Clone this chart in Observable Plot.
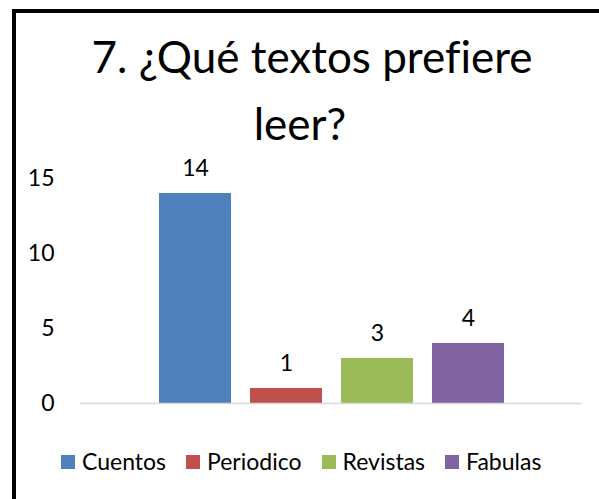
<!DOCTYPE html>
<html><head><meta charset="utf-8">
<script src="https://cdn.jsdelivr.net/npm/d3@7"></script>
<script src="https://cdn.jsdelivr.net/npm/@observablehq/plot@0.6"></script>
<style>
html,body{margin:0;padding:0;background:#fff;overflow:hidden;}
#wrap{position:relative;width:599px;height:499px;overflow:hidden;background:#fff;font-family:Lato,"Open Sans",sans-serif;color:#000;font-variant-ligatures:none;}
#frame{position:absolute;left:12px;top:9px;width:800px;height:800px;border-left:4px solid #000;border-top:4px solid #000;}
.tl{position:absolute;white-space:nowrap;font-size:44px;line-height:1;transform:translateX(-50%);}
#legend{position:absolute;left:61px;top:450px;display:flex;gap:20px;font-size:23px;line-height:1;white-space:nowrap;}
.li{display:flex;align-items:flex-end;gap:7px;}
.sw{width:14px;height:14px;margin-bottom:4px;}
svg{position:absolute;left:0;top:0;font-variant-ligatures:none;}
</style></head><body><div id="wrap"><div id="frame"></div></div>
<script>
const categories = ["Cuentos","Periodico","Revistas","Fabulas"];
const values = [14, 1, 3, 4];
const colors = ["#4F81BD","#C0504D","#9BBB59","#8064A2"];
const yTicks = [0, 5, 10, 15];
const titleLines = ["7. ¿Qué textos prefiere", "leer?"];

const data = categories.map((c, i) => ({cat: c, value: values[i]}));
const wrap = document.getElementById("wrap");

const chart = Plot.plot({
  width: 599, height: 499,
  marginLeft: 80, marginRight: 17, marginTop: 178, marginBottom: 96,
  style: {fontFamily: "Lato, 'Open Sans', sans-serif", fontSize: "23px", color: "#000", background: "transparent", overflow: "visible"},
  x: {domain: categories, paddingInner: 0.21, paddingOuter: 0.86, axis: null},
  y: {domain: [0, 15], axis: null},
  color: {domain: categories, range: colors},
  marks: [
    Plot.axisY({ticks: yTicks, tickSize: 0, tickPadding: 26, label: null, fontSize: 23}),
    Plot.barY(data, {x: "cat", y: "value", fill: "cat"}),
    Plot.ruleY([0], {stroke: "#d9d9d9", strokeWidth: 1.5}),
    Plot.text(data, {x: "cat", y: "value", text: d => String(d.value), lineAnchor: "bottom", dy: -18, fontSize: 23, fill: "#000"})
  ]
});
wrap.appendChild(chart);

const tops = [34, 101], centers = [312, 300];
titleLines.forEach((t, i) => {
  const d = document.createElement("div");
  d.className = "tl";
  d.textContent = t;
  d.style.top = tops[i] + "px";
  d.style.left = centers[i] + "px";
  wrap.appendChild(d);
});

const leg = document.createElement("div");
leg.id = "legend";
categories.forEach((c, i) => {
  const it = document.createElement("div");
  it.className = "li";
  const sw = document.createElement("div");
  sw.className = "sw";
  sw.style.background = colors[i];
  const lb = document.createElement("span");
  lb.textContent = c;
  it.appendChild(sw); it.appendChild(lb);
  leg.appendChild(it);
});
wrap.appendChild(leg);
</script></body></html>
